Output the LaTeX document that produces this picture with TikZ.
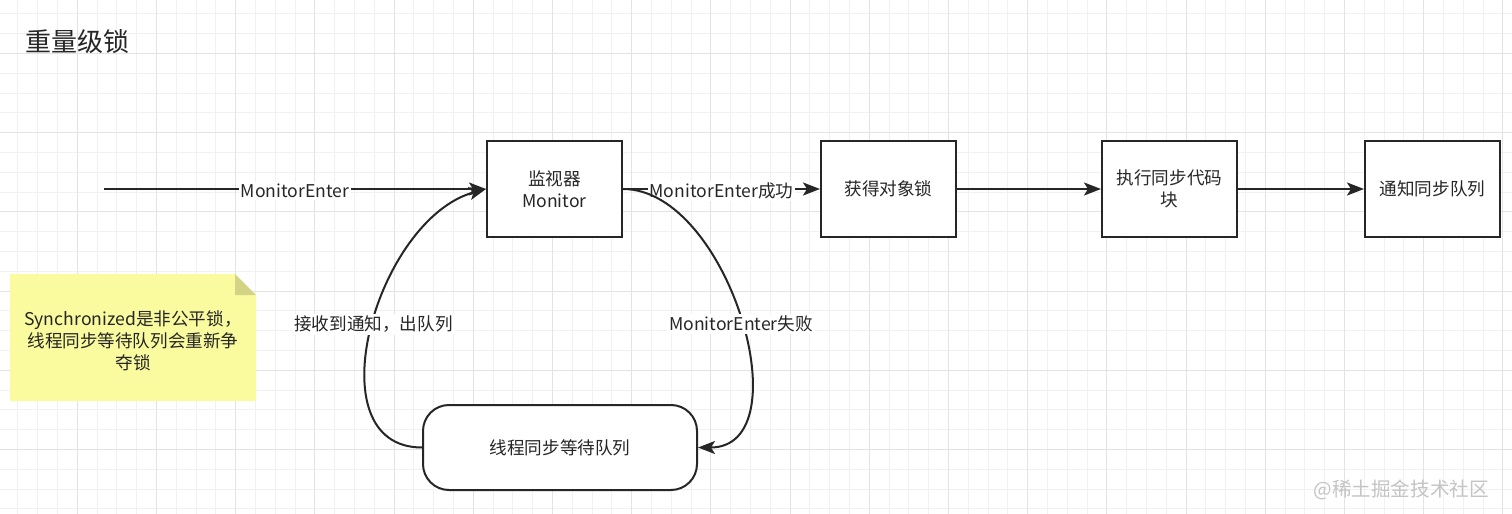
\documentclass[tikz,border=0pt]{standalone}
\usepackage{fontspec}
\setmainfont{Noto Sans CJK SC}
\usetikzlibrary{arrows.meta}
\definecolor{inkgray}{HTML}{262626}
\definecolor{gridminor}{HTML}{F1F1F1}
\definecolor{gridmajor}{HTML}{E3E3E3}
\definecolor{notefill}{HTML}{FAFA9E}
\definecolor{notefold}{HTML}{D3D385}
\definecolor{markgray}{HTML}{C4C4C4}

\begin{document}
\begin{tikzpicture}
[x=0.5pt,y=-0.5pt,
  minorgriddecorate/.style={draw=gridminor,line width=0.5pt},%
  majorgriddecorate/.style={draw=gridmajor,line width=0.5pt},%
  boxdecorate/.style={shape=rectangle,draw=inkgray,line width=1pt,fill=white,
    minimum width=67.5pt,minimum height=48pt,inner sep=2pt,align=center,
    text=inkgray,font=\fontsize{8.8}{11}\selectfont},%
  queuedecorate/.style={boxdecorate,rounded corners=13pt,
    minimum width=137pt,minimum height=42.5pt},%
  linedecorate/.style={-{Stealth[length=8.5pt,width=6.5pt,inset=2pt]},
    line width=1pt,draw=inkgray},%
  labeldecorate/.style={fill=white,inner sep=1pt,text=inkgray,yshift=-1pt,
    font=\fontsize{8.8}{11}\selectfont}]
\useasboundingbox[fill=white] (0,0) rectangle (1512,514);
%% background grid
\foreach \i in {0,...,77} {
  \draw[minorgriddecorate] ({-1.9+19.8*\i},0) -- ({-1.9+19.8*\i},514);
}
\foreach \i in {0,...,26} {
  \draw[minorgriddecorate] (0,{13.8+19.8*\i}) -- (1512,{13.8+19.8*\i});
}
\foreach \i in {0,...,19} {
  \draw[majorgriddecorate] ({-1.9+79.2*\i},0) -- ({-1.9+79.2*\i},514);
}
\foreach \i in {1,...,6} {
  \draw[majorgriddecorate] (0,{-25.8+79.2*\i}) -- (1512,{-25.8+79.2*\i});
}
%% title
\node (title) at (18,42) [anchor=west,text=inkgray,
  font=\fontsize{13}{15}\selectfont] {重量级锁};
%% note
\fill[notefill] (10,274) -- (235,274) -- (256,295) -- (256,401) -- (10,401) -- cycle;
\fill[notefold] (235,274) -- (256,295) -- (235,295) -- cycle;
\node (note) at (133,341) [align=center,text=inkgray,
  font=\fontsize{8.8}{11}\selectfont]
  {Synchronized是非公平锁，\\线程同步等待队列会重新争\\夺锁};
%% nodes or vertices
\foreach \nodename/\x/\y/\nodetext in {monitor/554.5/189/{监视器\\Monitor},
  lock/888.5/189/获得对象锁, exec/1169.5/189/{执行同步代码\\块},
  notify/1432.5/189/通知同步队列} {
  \node (\nodename) at (\x,\y) [boxdecorate] {\nodetext};
}
\node (queue) at (560,447.5) [queuedecorate] {线程同步等待队列};
\coordinate (entry) at (104,189);
%% edges or lines
\draw[linedecorate] (entry) -- node[labeldecorate] {MonitorEnter} (monitor);
\draw[linedecorate] (monitor) -- node[labeldecorate] {MonitorEnter成功} (lock);
\path
\foreach \startnode/\endnode in {lock/exec, exec/notify}
{
  (\startnode) edge[linedecorate] (\endnode)
};
\draw[linedecorate] (monitor.east) .. controls +(106,0) and +(106,0) ..
  node[labeldecorate,pos=0.51] {MonitorEnter失败} (queue.east);
\draw[linedecorate] (queue.west) .. controls +(-110,0) and +(-110,30) ..
  node[labeldecorate,pos=0.52] {接收到通知，出队列} (monitor.west);
%% watermark
\node (watermark) at (1496,490) [anchor=east,text=markgray,
  font=\fontsize{9.8}{11}\selectfont] {@稀土掘金技术社区};
\end{tikzpicture}
\end{document}
